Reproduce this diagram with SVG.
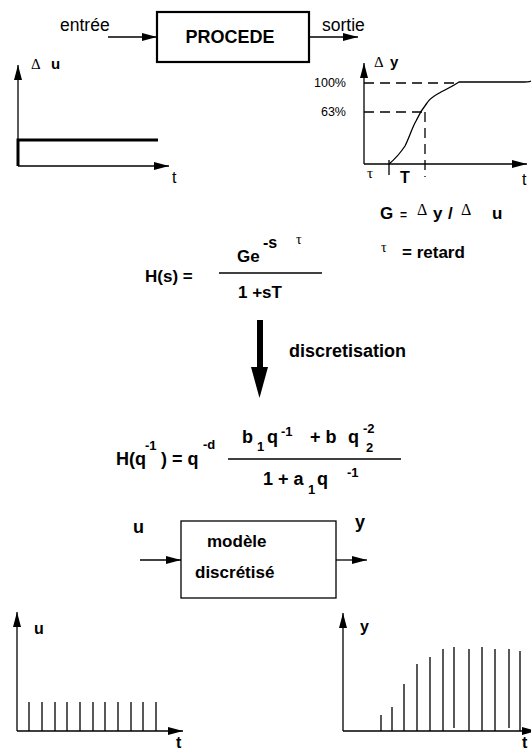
<svg xmlns="http://www.w3.org/2000/svg" width="531" height="755" viewBox="0 0 531 755">
<defs>
<style>
.b{font-family:"Liberation Sans",Arial,sans-serif;font-weight:bold;fill:#000}
.r{font-family:"Liberation Sans",Arial,sans-serif;fill:#000}
.s{font-family:"Liberation Serif","DejaVu Serif",serif;fill:#000}
.ln{stroke:#000;stroke-width:1.3;fill:none}
.dash{stroke:#000;stroke-width:1.3;fill:none;stroke-dasharray:10,6}
</style>
<marker id="ah" markerUnits="userSpaceOnUse" markerWidth="15" markerHeight="8" refX="15" refY="4" orient="auto" viewBox="0 0 15 8">
<path d="M0,0 L15,4 L0,8 z" fill="#000"/>
</marker>
</defs>
<rect width="531" height="755" fill="#fff"/>

<g id="procede">
<rect x="157" y="12" width="152" height="50" fill="#fff" stroke="#000" stroke-width="2.2"/>
<text class="b" x="230" y="43" font-size="18" text-anchor="middle">PROCEDE</text>
</g>
<g id="labels-top">
<text class="r" x="60" y="31" font-size="17.5">entrée</text>
<text class="r" x="322" y="31" font-size="17.5">sortie</text>
</g>

<g id="connectors">
<line class="ln" x1="108" y1="37" x2="157" y2="37" marker-end="url(#ah)"/>
<line class="ln" x1="310" y1="37" x2="358" y2="37" marker-end="url(#ah)"/>
<line class="ln" x1="140" y1="560" x2="181" y2="560" marker-end="url(#ah)"/>
<line class="ln" x1="336" y1="560" x2="367" y2="560" marker-end="url(#ah)"/>
</g>

<g id="plot-du">
<line class="ln" x1="18" y1="166" x2="18" y2="65" marker-end="url(#ah)"/>
<line class="ln" x1="18" y1="166" x2="169" y2="166" marker-end="url(#ah)"/>
<polyline points="18,166 18,140 158,140" fill="none" stroke="#000" stroke-width="3"/>
<text class="s" x="31" y="69" font-size="15">Δ</text>
<text class="b" x="51" y="69" font-size="15">u</text>
<text class="r" x="172" y="183" font-size="16">t</text>
</g>

<g id="plot-dy">
<line class="ln" x1="364" y1="164" x2="364" y2="63" marker-end="url(#ah)"/>
<line class="ln" x1="364" y1="164" x2="527" y2="164" marker-end="url(#ah)"/>
<line class="dash" x1="364" y1="83" x2="460" y2="83"/>
<line class="dash" x1="364" y1="112" x2="425" y2="112"/>
<line class="dash" x1="425" y1="112" x2="425" y2="177"/>
<line class="ln" x1="389" y1="160" x2="389" y2="175"/>
<path class="ln" d="M389,164 C395,159 401,152 405,146 C409,138 412,128 416,121 C419,114 423,108 427,103 C431,97 436,95 441,92 C447,89 453,86 459,82 L521,82 C526,82 529,82 531,81"/>
<text class="s" x="374" y="67" font-size="15">Δ</text>
<text class="b" x="390" y="67" font-size="15">y</text>
<text class="r" x="346" y="87" font-size="12.5" text-anchor="end">100%</text>
<text class="r" x="346" y="116" font-size="12.5" text-anchor="end">63%</text>
<text class="s" x="367" y="178" font-size="15">τ</text>
<text class="b" x="400" y="183" font-size="16">T</text>
<text class="r" x="522" y="185" font-size="16">t</text>
</g>

<g id="gain-def">
<text class="b" x="380" y="219" font-size="17">G</text>
<text class="b" x="400" y="219" font-size="12">=</text>
<text class="s" x="417" y="215" font-size="16">Δ</text>
<text class="b" x="433" y="219" font-size="17">y</text>
<text class="b" x="448" y="219" font-size="17">/</text>
<text class="s" x="461" y="215" font-size="16">Δ</text>
<text class="b" x="492" y="219" font-size="17">u</text>
<text class="s" x="381" y="252" font-size="14">τ</text>
<text class="b" x="402" y="258" font-size="17">= retard</text>
</g>

<g id="hs">
<text class="b" x="145" y="282" font-size="17">H(s) =</text>
<text class="b" x="237" y="262" font-size="17">Ge</text>
<text class="b" x="263" y="248" font-size="16">-s</text>
<text class="s" x="296" y="244" font-size="14">τ</text>
<line x1="219" y1="273" x2="322" y2="273" stroke="#000" stroke-width="1.5"/>
<text class="b" x="238" y="298" font-size="17">1 +sT</text>
</g>

<g id="discretisation">
<rect x="257" y="320" width="6" height="48" fill="#000"/>
<polygon points="251,367 268,367 259.5,398" fill="#000"/>
<text class="b" x="289" y="357" font-size="18">discretisation</text>
</g>

<g id="hq">
<text class="b" x="116" y="465" font-size="18">H(q</text>
<text class="b" x="145" y="450" font-size="13">-1</text>
<text class="b" x="161" y="465" font-size="18">) = q</text>
<text class="b" x="203" y="449" font-size="13">-d</text>
<line x1="228" y1="459" x2="401" y2="459" stroke="#000" stroke-width="1.5"/>
<text class="b" x="242" y="443" font-size="18">b</text>
<text class="b" x="257" y="451" font-size="13">1</text>
<text class="b" x="267" y="443" font-size="18">q</text>
<text class="b" x="281" y="436" font-size="13">-1</text>
<text class="b" x="310" y="443" font-size="18">+ b</text>
<text class="b" x="348" y="443" font-size="18">q</text>
<text class="b" x="363" y="433" font-size="13">-2</text>
<text class="b" x="366" y="452" font-size="13">2</text>
<text class="b" x="263" y="485" font-size="18">1 + a</text>
<text class="b" x="308" y="494" font-size="13">1</text>
<text class="b" x="317" y="485" font-size="18">q</text>
<text class="b" x="347" y="477" font-size="13">-1</text>
</g>

<g id="modele">
<rect x="181" y="521" width="155" height="77" fill="#fff" stroke="#000" stroke-width="1.3"/>
<text class="b" x="207" y="547" font-size="17">modèle</text>
<text class="b" x="195" y="578" font-size="17">discrétisé</text>
<text class="b" x="133" y="533" font-size="18">u</text>
<text class="b" x="355" y="528" font-size="18">y</text>
</g>

<g id="plot-u-discret">
<line class="ln" x1="17" y1="731" x2="17" y2="612" marker-end="url(#ah)"/>
<line class="ln" x1="17" y1="731" x2="183" y2="731" marker-end="url(#ah)"/>
<path class="ln" d="M29,702V731M42,702V731M55,702V731M67,702V731M80,702V731M93,702V731M105,702V731M118,702V731M131,702V731M143,702V731M156,702V731"/>
<text class="b" x="34" y="634" font-size="16">u</text>
<text class="b" x="176" y="748" font-size="16">t</text>
</g>

<g id="plot-y-discret">
<line class="ln" x1="343" y1="731" x2="343" y2="613" marker-end="url(#ah)"/>
<line class="ln" x1="343" y1="731" x2="537" y2="731" marker-end="url(#ah)"/>
<path class="ln" d="M381,715V731M392,707V731M404,684V731M417,664V731M430,657V731M443,649V731M454,647V728M469,649V731M482,647V731M495,649V731M509,649V728M520,651V731"/>
<text class="b" x="360" y="632" font-size="16">y</text>
<text class="b" x="522" y="748" font-size="16">t</text>
</g>
</svg>
